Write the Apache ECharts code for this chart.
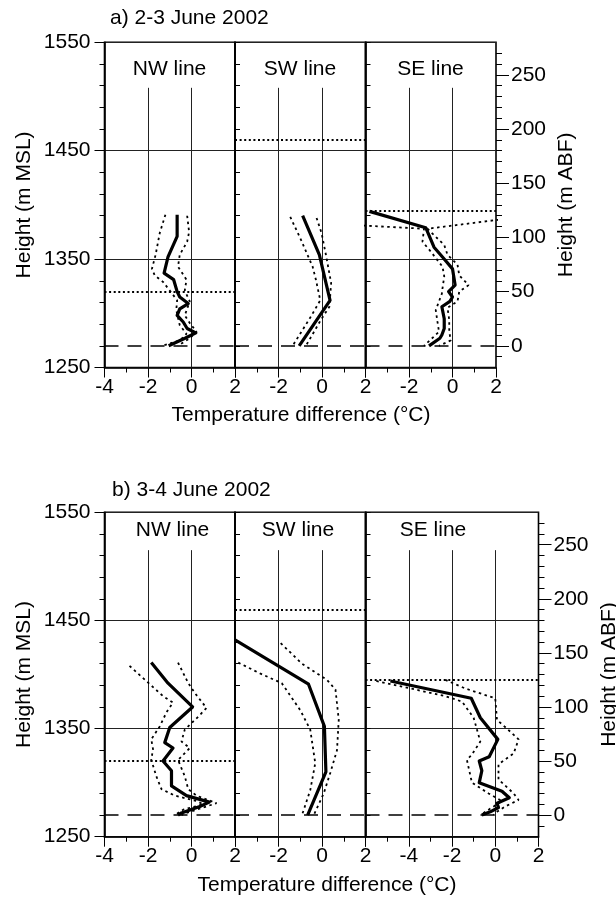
<!DOCTYPE html>
<html><head><meta charset="utf-8">
<script src="https://cdn.jsdelivr.net/npm/echarts@6/dist/echarts.min.js"></script>
<style>html,body{margin:0;padding:0;background:#fff}#c{width:616px;height:899px}</style>
</head><body><div id="c"></div>
<script>
// ---------- data ----------
const titles = ['a) 2-3 June 2002', 'b) 3-4 June 2002'];
const panelNames = ['NW line', 'SW line', 'SE line'];
const xLabel = 'Temperature difference (°C)';
const yLabelLeft = 'Height (m MSL)';
const yLabelRight = 'Height (m ABF)';
const groundMSL = 1270;
const abfLabels = [0, 50, 100, 150, 200, 250];
const abfMinor = [-10, 10, 20, 30, 40, 60, 70, 80, 90, 110, 120, 130, 140, 160, 170, 180, 190, 210, 220, 230, 240, 260, 270];
const levelsA = [1320, 1460, 1395];
const levelsB = [1320, 1460, 1395];
const xMinA = [-4, -4, -4];
const xMinB = [-4, -4, -6];
const gridXA = [[-2, 0], [-2, 0], [-2, 0]];
const gridXB = [[-2, 0], [-2, 0], [-4, -2, 0]];

const a_NW_mean = [[-0.66,1391],[-0.66,1371],[-1.08,1352],[-1.26,1337],[-0.82,1331],[-0.66,1320],[-0.54,1315],[-0.15,1309],[-0.54,1304],[-0.66,1298],[-0.38,1292],[-0.2,1286],[0.2,1282],[-0.3,1277],[-1.05,1270]];
const a_NW_min = [[-1.2,1391],[-1.46,1374],[-1.65,1354],[-1.82,1341],[-1.69,1335],[-1.31,1329],[-1.0,1321],[-0.66,1312],[-0.7,1303],[-0.54,1289],[-0.23,1281],[-0.54,1275],[-1.35,1270]];
const a_NW_max = [[-0.2,1390],[-0.11,1375],[-0.2,1366],[-0.54,1354],[-0.62,1343],[-0.23,1331],[-0.31,1321],[-0.08,1311],[-0.31,1298],[-0.08,1291],[0.23,1283],[-0.08,1277],[-0.62,1270]];

const a_SW_mean = [[-0.89,1390],[-0.12,1354],[0.37,1312],[-1.05,1270]];
const a_SW_min = [[-1.46,1389],[-0.97,1368],[-0.43,1343],[-0.28,1331],[-0.08,1312],[-0.51,1297],[-1.35,1270]];
const a_SW_max = [[-0.25,1388],[-0.02,1374],[0.18,1354],[0.42,1328],[0.34,1306],[-0.05,1294],[-0.74,1270]];

const a_SE_mean = [[-3.82,1394],[-1.23,1379],[-0.85,1361],[-0.46,1352],[0.0,1341],[0.12,1326],[-0.18,1320],[0.0,1315],[-0.12,1311],[-0.49,1306],[-0.38,1295],[-0.38,1286],[-0.49,1280],[-0.58,1277],[-1.08,1270]];
const a_SE_min = [[-16.5,1394],[-1.31,1378],[-1.38,1366],[-1.0,1357],[-0.46,1343],[-0.38,1334],[-0.46,1323],[-0.49,1318],[-0.77,1303],[-0.69,1292],[-0.62,1283],[-1.31,1270]];
const a_SE_max = [[5.15,1394],[-1.15,1378],[-0.38,1363],[-0.23,1354],[0.23,1345],[0.31,1335],[0.74,1326],[0.31,1320],[0.23,1311],[-0.23,1305],[-0.15,1294],[-0.15,1283],[-0.08,1275],[-0.62,1270]];

const b_NW_mean = [[-1.85,1411],[-1.08,1392],[0.05,1370],[-1.0,1351],[-1.23,1337],[-0.85,1332],[-1.31,1320],[-0.92,1311],[-0.92,1297],[-0.23,1288],[0.82,1282],[0.38,1278],[-0.46,1272],[-0.62,1270]];
const b_NW_min = [[-2.85,1408],[-2.08,1394],[-1.31,1380],[-0.85,1374],[-1.15,1365],[-1.46,1352],[-1.85,1340],[-1.77,1331],[-1.85,1321],[-1.62,1306],[-1.38,1294],[-0.77,1288],[0.23,1283],[0.54,1280],[-0.38,1275],[-0.77,1270]];
const b_NW_max = [[-0.62,1411],[-0.15,1392],[0.15,1383],[0.69,1369],[0.31,1361],[-0.31,1349],[-0.46,1338],[-0.08,1332],[-0.62,1321],[-0.31,1306],[-0.15,1294],[0.23,1288],[1.15,1281],[0.54,1277],[-0.23,1272],[-0.46,1270]];

const b_SW_mean = [[-4.0,1432],[-0.62,1391],[0.11,1352],[0.18,1310],[-0.66,1270]];
const b_SW_min = [[-3.85,1411],[-2.85,1401],[-1.85,1392],[-1.0,1367],[-0.54,1349],[-0.31,1318],[-0.54,1293],[-0.92,1270]];
const b_SW_max = [[-1.9,1429],[-0.92,1410],[0.23,1395],[0.62,1386],[0.77,1358],[0.69,1330],[0.38,1309],[0.08,1290],[-0.38,1270]];

const b_SE_mean = [[-4.85,1394],[-1.11,1378],[-0.69,1360],[0.12,1340],[-0.28,1324],[-0.74,1320],[-0.62,1311],[-0.74,1300],[0.31,1292],[0.65,1286],[0.08,1281],[0.15,1277],[-0.23,1273],[-0.62,1270]];
const b_SE_min = [[-5.5,1394],[-2.31,1380],[-1.54,1375],[-1.0,1360],[-0.69,1338],[-1.08,1326],[-1.31,1321],[-1.08,1300],[-0.31,1290],[0.31,1283],[-0.15,1277],[-0.69,1270]];
const b_SE_max = [[-2.31,1395],[-1.38,1387],[0.0,1378],[0.08,1358],[0.54,1350],[1.08,1340],[0.85,1327],[0.15,1317],[0.15,1303],[0.85,1290],[1.08,1284],[0.46,1278],[0.08,1273],[-0.08,1270]];

// ---------- layout / style ----------
const FONT = "'Liberation Sans', Arial, Helvetica, sans-serif";
const FS = 21;
const BLACK = '#000';
const rows = [
  { top: 42.3, height: 325.2, lefts: [104.5, 235, 365.5], widths: [130.5, 130.5, 130.5],
    xmin: xMinA, gx: gridXA, levels: levelsA, vTop: 1508,
    data: [[a_NW_mean, a_NW_min, a_NW_max], [a_SW_mean, a_SW_min, a_SW_max], [a_SE_mean, a_SE_min, a_SE_max]],
    titleXY: [110, 18.5], labelY: 69.5, labelX: [169.5, 300, 430.5], xLabelXY: [301, 415.5] },
  { top: 512.3, height: 324.4, lefts: [104.5, 235, 365.5], widths: [130.5, 130.5, 173],
    xmin: xMinB, gx: gridXB, levels: levelsB, vTop: 1515,
    data: [[b_NW_mean, b_NW_min, b_NW_max], [b_SW_mean, b_SW_min, b_SW_max], [b_SE_mean, b_SE_min, b_SE_max]],
    titleXY: [112, 490], labelY: 530.5, labelX: [172.5, 298, 433], xLabelXY: [327, 885.5] }
];

const grid = [], xAxis = [], yAxis = [], series = [], graphic = [];
const extraY = [];
const txt = (s, x, y, align) => ({ type: 'text', x, y, silent: true,
  style: { text: s, font: FS + 'px ' + FONT, fill: BLACK, textAlign: align || 'center', align: align || 'center', textVerticalAlign: 'middle', verticalAlign: 'middle' } });
const plain = v => String(v);

rows.forEach((r, ri) => {
  graphic.push(txt(titles[ri], r.titleXY[0], r.titleXY[1], 'left'));
  graphic.push(txt(xLabel, r.xLabelXY[0], r.xLabelXY[1]));
  for (let p = 0; p < 3; p++) {
    const g = grid.length;
    graphic.push(txt(panelNames[p], r.labelX[p], r.labelY));
    grid.push({ left: r.lefts[p], top: r.top, width: r.widths[p], height: r.height,
      show: true, borderColor: BLACK, borderWidth: 1.6, backgroundColor: 'transparent',
      containLabel: false, outerBoundsMode: 'none' });
    xAxis.push({ type: 'value', gridIndex: g, min: r.xmin[p], max: 2, interval: 2,
      axisLine: { show: true, onZero: false, lineStyle: { color: BLACK, width: 1.6 } },
      axisTick: { show: true, length: 10, lineStyle: { color: BLACK, width: 1 } },
      minorTick: { show: true, splitNumber: 2, length: 5, lineStyle: { color: BLACK, width: 1 } },
      axisLabel: { show: true, fontSize: FS, color: BLACK, fontFamily: FONT, margin: 9, showMinLabel: p === 0, formatter: plain },
      splitLine: { show: false }, minorSplitLine: { show: false } });
    const ya = { type: 'value', gridIndex: g, min: 1250, max: 1550, interval: 100,
      axisLine: { show: true, onZero: false, lineStyle: { color: BLACK, width: 1.6 } },
      axisTick: { show: true, inside: p !== 0, length: p === 0 ? 10 : 5, lineStyle: { color: BLACK, width: 1 } },
      minorTick: { show: true, splitNumber: 5, length: 5, lineStyle: { color: BLACK, width: 1 } },
      axisLabel: { show: p === 0, fontSize: FS, color: BLACK, fontFamily: FONT, margin: 14, formatter: plain },
      splitLine: { show: true, lineStyle: { color: '#222', width: 1 } }, minorSplitLine: { show: false } };
    if (p === 0) {
      Object.assign(ya, { name: yLabelLeft, nameLocation: 'middle', nameGap: 70, nameRotate: 90,
        nameTextStyle: { fontSize: FS, color: BLACK, fontFamily: FONT } });
    }
    yAxis.push(ya);
    if (p === 2) {
      extraY.push({ type: 'value', gridIndex: g, position: 'right', min: -20, max: 280,
        axisLine: { show: false, onZero: false },
        axisTick: { show: true, length: 13, customValues: abfLabels, lineStyle: { color: BLACK, width: 1 } },
        axisLabel: { show: true, customValues: abfLabels, fontSize: FS, color: BLACK, fontFamily: FONT, margin: 15, formatter: plain },
        splitLine: { show: false },
        name: yLabelRight, nameLocation: 'middle', nameGap: 60, nameRotate: 90,
        nameTextStyle: { fontSize: FS, color: BLACK, fontFamily: FONT } });
      extraY.push({ type: 'value', gridIndex: g, position: 'right', min: -20, max: 280,
        axisLine: { show: false, onZero: false },
        axisTick: { show: true, length: 6, customValues: abfMinor, lineStyle: { color: BLACK, width: 1 } },
        axisLabel: { show: false, customValues: abfMinor }, splitLine: { show: false } });
    }
    const [mean, mn, mx] = r.data[p];
    const mlData = r.gx[p].map(x => [
      { coord: [x, 1250], lineStyle: { color: '#222', width: 1, type: 'solid' } },
      { coord: [x, r.vTop] }]);
    mlData.push({ yAxis: groundMSL, lineStyle: { color: BLACK, width: 1.6, type: [14, 9] } });
    mlData.push({ yAxis: r.levels[p], lineStyle: { color: BLACK, width: 2, type: [2, 2.6] } });
    series.push({ type: 'line', xAxisIndex: g, yAxisIndex: g, data: mean, symbol: 'none', z: 5,
      lineStyle: { color: BLACK, width: 3.2, join: 'round' }, clip: true, silent: true,
      markLine: { silent: true, symbol: ['none', 'none'], label: { show: false }, animation: false, z: 2, data: mlData } });
    [mn, mx].forEach(d => series.push({ type: 'line', xAxisIndex: g, yAxisIndex: g, data: d, symbol: 'none', z: 4,
      lineStyle: { color: BLACK, width: 1.8, type: [2.5, 3.5] }, clip: true, silent: true }));
  }
});
extraY.forEach(a => yAxis.push(a));

const chart = echarts.init(document.getElementById('c'), null, { renderer: 'canvas' });
chart.setOption({
  animation: false,
  backgroundColor: '#fff',
  textStyle: { fontFamily: FONT },
  grid, xAxis, yAxis, series, graphic
});
</script></body></html>
